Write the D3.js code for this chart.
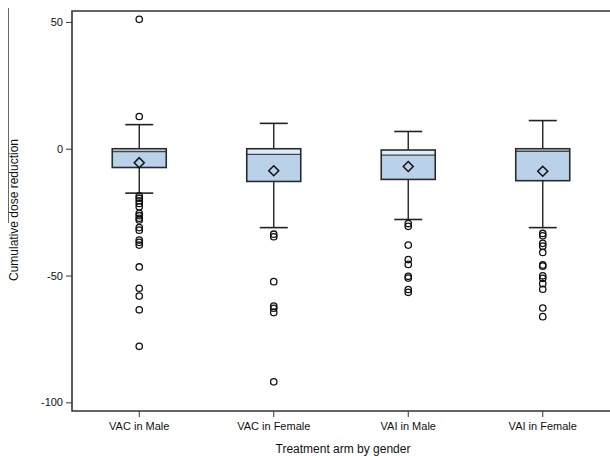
<!DOCTYPE html>
<html>
<head>
<meta charset="utf-8">
<script src="https://cdn.jsdelivr.net/npm/d3@7"></script>
<style>
  body { margin: 0; background: #fff; }
  text { font-family: "Liberation Sans", Arial, sans-serif; fill: #111; }
</style>
</head>
<body>
<svg id="chart" width="610" height="456"></svg>
<script>
const groups = ['VAC in Male', 'VAC in Female', 'VAI in Male', 'VAI in Female']
const q3 = [0, 0, -0.5, 0]
const medians = [-1.1, -2.2, -2.5, -1.0]
const q1 = [-7.4, -12.9, -12.1, -12.6]
const means = [-5.5, -8.7, -7.0, -8.9]
const whiskerHigh = [9.5, 10.0, 6.8, 11.1]
const whiskerLow = [-17.5, -31.1, -27.9, -31.1]
const outliers = [
    [51, 12.7, -18.6, -19.5, -20.5, -21.6, -22.9, -25.5, -26.4, -27.4, -28.1, -31.1, -32.1, -36.0, -36.9, -38.0, -46.6, -55.0, -58.1, -63.5, -77.9],
    [-33.7, -34.7, -52.4, -62.0, -62.9, -64.6, -91.9],
    [-29.5, -30.6, -38.0, -43.7, -45.6, -50.3, -51.0, -55.5, -56.6],
    [-33.4, -34.3, -37.3, -38.4, -40.9, -45.8, -46.3, -50.1, -51.1, -53.2, -55.4, -62.8, -66.2]
]
const yTicks = [50, 0, -50, -100]

const svg = d3.select('#chart')
const m = { left: 72, right: 610, top: 11, bottom: 411 }

const x = d3.scaleBand()
    .domain(groups)
    .range([m.left, m.right])

const y = d3.scaleLinear()
    .domain([-103.4, 54.3])
    .range([m.bottom, m.top])

// stray line left of the y label, as in the source image
svg.append('line')
    .attr('x1', 8.5).attr('x2', 8.5)
    .attr('y1', 8).attr('y2', 223)
    .attr('stroke', '#666').attr('stroke-width', 1)

// frame
svg.append('path')
    .attr('d', `M${m.right + 5},${m.top}H${m.left}V${m.bottom}H${m.right + 5}`)
    .attr('fill', 'none')
    .attr('stroke', '#333')
    .attr('stroke-width', 1.6)

const yAxis = svg.append('g')
    .attr('transform', `translate(${m.left},0)`)
    .call(d3.axisLeft(y).tickValues(yTicks).tickFormat(d => String(d)).tickSize(6).tickPadding(3))
yAxis.select('.domain').remove()
yAxis.selectAll('line').attr('stroke', '#333')
yAxis.selectAll('text').style('font-size', '11px').attr('fill', '#111')

const xAxis = svg.append('g')
    .attr('transform', `translate(0,${m.bottom})`)
    .call(d3.axisBottom(x).tickSize(6).tickPadding(5))
xAxis.select('.domain').remove()
xAxis.selectAll('line').attr('stroke', '#333')
xAxis.selectAll('text').style('font-size', '11px').attr('fill', '#111')

svg.append('text')
    .attr('x', (m.left + m.right) / 2 + 2)
    .attr('y', 453)
    .attr('text-anchor', 'middle')
    .style('font-size', '12px')
    .text('Treatment arm by gender')

svg.append('text')
    .attr('transform', 'translate(18,210) rotate(-90)')
    .attr('text-anchor', 'middle')
    .style('font-size', '12px')
    .text('Cumulative dose reduction')

const boxW = 54, capW = 28
const data = groups.map((g, i) => ({
    g, q3: q3[i], med: medians[i], q1: q1[i], mean: means[i],
    hi: whiskerHigh[i], lo: whiskerLow[i], out: outliers[i]
}))

const box = svg.selectAll('g.box')
    .data(data)
    .enter().append('g')
    .attr('class', 'box')
    .attr('transform', d => `translate(${x(d.g) + x.bandwidth() / 2},0)`)

// whiskers
box.append('line')
    .attr('x1', 0).attr('x2', 0)
    .attr('y1', d => y(d.hi)).attr('y2', d => y(d.lo))
    .attr('stroke', '#222').attr('stroke-width', 1.4)
box.selectAll('line.cap')
    .data(d => [d.hi, d.lo])
    .enter().append('line')
    .attr('class', 'cap')
    .attr('x1', -capW / 2).attr('x2', capW / 2)
    .attr('y1', v => y(v)).attr('y2', v => y(v))
    .attr('stroke', '#222').attr('stroke-width', 1.6)

// box body
box.append('rect')
    .attr('x', -boxW / 2)
    .attr('width', boxW)
    .attr('y', d => y(d.q3))
    .attr('height', d => y(d.q1) - y(d.q3))
    .attr('fill', '#bad1ea')
box.append('rect')
    .attr('x', -boxW / 2)
    .attr('width', boxW)
    .attr('y', d => y(d.q3))
    .attr('height', d => y(d.med) - y(d.q3))
    .attr('fill', '#dcedf9')
box.append('line')
    .attr('x1', -boxW / 2).attr('x2', boxW / 2)
    .attr('y1', d => y(d.med)).attr('y2', d => y(d.med))
    .attr('stroke', '#444').attr('stroke-width', 1.3)
box.append('rect')
    .attr('x', -boxW / 2)
    .attr('width', boxW)
    .attr('y', d => y(d.q3))
    .attr('height', d => y(d.q1) - y(d.q3))
    .attr('fill', 'none')
    .attr('stroke', '#2a2a2a')
    .attr('stroke-width', 1.6)

// mean diamond
box.append('path')
    .attr('d', d => {
        const cy = y(d.mean), r = 5
        return `M0,${cy - r}L${r},${cy}L0,${cy + r}L${-r},${cy}Z`
    })
    .attr('fill', 'none')
    .attr('stroke', '#111')
    .attr('stroke-width', 1.5)

// outliers
box.selectAll('circle')
    .data(d => d.out)
    .enter().append('circle')
    .attr('cx', 0)
    .attr('cy', v => y(v))
    .attr('r', 3.2)
    .attr('fill', 'none')
    .attr('stroke', '#111')
    .attr('stroke-width', 1.3)
</script>
</body>
</html>
